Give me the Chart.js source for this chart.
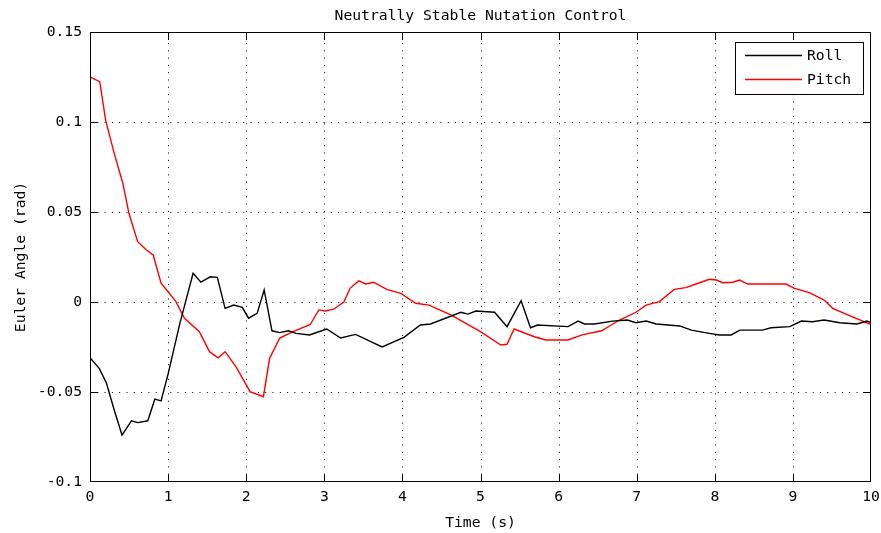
<!DOCTYPE html>
<html>
<head>
<meta charset="utf-8">
<script src="https://cdn.jsdelivr.net/npm/chart.js@4.4.1/dist/chart.umd.min.js"></script>
<style>
  body { margin: 0; background: #fff; }
  canvas { display: block; }
</style>
</head>
<body>
<canvas id="nutation" width="881" height="533"></canvas>
<script>
const chartTitle = "Neutrally Stable Nutation Control"
const xTitle = "Time (s)"
const yTitle = "Euler Angle (rad)"
const yTickLabels = ["-0.1", "-0.05", "0", "0.05", "0.1", "0.15"]

const rollTime = [0, 0.12, 0.21, 0.31, 0.41, 0.53, 0.61, 0.74, 0.83, 0.91, 1.0, 1.15, 1.32, 1.42, 1.54, 1.63, 1.73, 1.84, 1.95, 2.03, 2.14, 2.23, 2.33, 2.43, 2.54, 2.64, 2.81, 3.03, 3.21, 3.40, 3.74, 4.02, 4.23, 4.36, 4.75, 4.84, 4.94, 5.18, 5.34, 5.52, 5.64, 5.73, 6.12, 6.25, 6.33, 6.46, 6.69, 6.88, 6.99, 7.12, 7.25, 7.55, 7.70, 7.93, 8.06, 8.21, 8.32, 8.61, 8.72, 8.96, 9.11, 9.25, 9.40, 9.60, 9.82, 9.95, 10]
const rollAngle = [-0.031, -0.037, -0.045, -0.060, -0.074, -0.066, -0.067, -0.066, -0.054, -0.055, -0.040, -0.012, 0.016, 0.011, 0.014, 0.0137, -0.0035, -0.0017, -0.003, -0.009, -0.0063, 0.0067, -0.016, -0.017, -0.016, -0.0174, -0.0183, -0.015, -0.020, -0.018, -0.025, -0.0196, -0.0128, -0.0122, -0.0057, -0.0067, -0.005, -0.0057, -0.0137, 0.0007, -0.0143, -0.0128, -0.0137, -0.0106, -0.0122, -0.0122, -0.0106, -0.010, -0.0115, -0.0106, -0.0122, -0.0133, -0.0156, -0.0174, -0.0183, -0.0183, -0.0156, -0.0156, -0.0143, -0.0137, -0.0106, -0.011, -0.010, -0.0115, -0.0122, -0.0106, -0.0115]

const pitchTime = [0, 0.125, 0.2, 0.31, 0.42, 0.50, 0.61, 0.72, 0.81, 0.91, 1.0, 1.10, 1.21, 1.40, 1.53, 1.64, 1.73, 1.87, 2.05, 2.22, 2.30, 2.43, 2.60, 2.82, 2.93, 3.01, 3.12, 3.25, 3.33, 3.44, 3.53, 3.63, 3.80, 3.98, 4.17, 4.34, 4.62, 5.0, 5.26, 5.34, 5.43, 5.69, 5.84, 6.12, 6.30, 6.55, 6.78, 6.99, 7.12, 7.29, 7.48, 7.63, 7.76, 7.93, 8.02, 8.10, 8.23, 8.32, 8.42, 8.91, 9.02, 9.21, 9.40, 9.51, 9.68, 10]
const pitchAngle = [0.125, 0.1224, 0.101, 0.0826, 0.066, 0.049, 0.0335, 0.029, 0.026, 0.0104, 0.0057, 0.0002, -0.009, -0.0165, -0.0276, -0.031, -0.0276, -0.036, -0.0498, -0.0526, -0.0313, -0.020, -0.0165, -0.0125, -0.0044, -0.005, -0.004, 0, 0.0076, 0.0117, 0.010, 0.011, 0.007, 0.0048, -0.0007, -0.0017, -0.0072, -0.0165, -0.0239, -0.0235, -0.015, -0.0193, -0.0211, -0.0211, -0.0183, -0.0160, -0.010, -0.0057, -0.0017, 0.0002, 0.007, 0.008, 0.010, 0.0126, 0.0122, 0.0107, 0.011, 0.0122, 0.010, 0.010, 0.0076, 0.0052, 0.0011, -0.0035, -0.0067, -0.0125]

const FONT = "DejaVu Sans Mono"
const FSIZE = 14.7
Chart.defaults.font.family = FONT
Chart.defaults.font.size = FSIZE
Chart.defaults.color = "#000"

function pairs(xs, ys) {
    return xs.map((x, i) => ({x: x, y: ys[i]}))
}

function clamp(v, lo, hi) {
    return Math.min(Math.max(v, lo), hi)
}

// grid, box, inward ticks, title and the legend, matlab style
const matlabFrame = {
    id: "matlabFrame",
    beforeDatasetsDraw(chart) {
        const {ctx, chartArea: a, scales} = chart
        ctx.save()
        ctx.strokeStyle = "#000"
        ctx.lineWidth = 1
        ctx.setLineDash([1, 6.3])
        scales.x.ticks.forEach(t => {
            if (t.value <= scales.x.min || t.value >= scales.x.max) return
            const px = Math.round(scales.x.getPixelForValue(t.value)) + 0.5
            ctx.beginPath(); ctx.moveTo(px, a.bottom); ctx.lineTo(px, a.top); ctx.stroke()
        })
        scales.y.ticks.forEach(t => {
            if (t.value <= scales.y.min + 1e-9 || t.value >= scales.y.max - 1e-9) return
            const py = Math.round(scales.y.getPixelForValue(t.value)) + 0.5
            ctx.beginPath(); ctx.moveTo(a.left, py); ctx.lineTo(a.right, py); ctx.stroke()
        })
        ctx.restore()
    },
    afterDatasetsDraw(chart) {
        const {ctx, chartArea: a, scales} = chart
        const tl = 8
        ctx.save()
        ctx.setLineDash([])
        ctx.fillStyle = "#000"
        // box
        const L = Math.round(a.left), R = Math.round(a.right) - 1
        const T = Math.round(a.top), B = Math.round(a.bottom) - 1
        ctx.fillRect(L, T, R - L + 1, 1)
        ctx.fillRect(L, B, R - L + 1, 1)
        ctx.fillRect(L, T, 1, B - T + 1)
        ctx.fillRect(R, T, 1, B - T + 1)
        // ticks pointing inward on all four sides
        scales.x.ticks.forEach(t => {
            const px = clamp(Math.round(scales.x.getPixelForValue(t.value)), L, R)
            ctx.fillRect(px, B - tl + 1, 1, tl)
            ctx.fillRect(px, T, 1, tl)
        })
        scales.y.ticks.forEach(t => {
            const py = clamp(Math.round(scales.y.getPixelForValue(t.value)), T, B)
            ctx.fillRect(L, py, tl, 1)
            ctx.fillRect(R - tl + 1, py, tl, 1)
        })

        // title
        ctx.font = FSIZE + "px '" + FONT + "'"
        ctx.textAlign = "center"
        ctx.textBaseline = "middle"
        ctx.fillText(chartTitle, (a.left + a.right) / 2, 16)

        // legend box in the top right corner
        const bx = R - 135, by = T + 10, bw = 128, bh = 52
        ctx.fillStyle = "#fff"
        ctx.fillRect(bx, by, bw, bh)
        ctx.strokeStyle = "#000"
        ctx.lineWidth = 1
        ctx.strokeRect(bx + 0.5, by + 0.5, bw, bh)
        chart.data.datasets.forEach((ds, i) => {
            const ly = by + 13.5 + i * 24
            ctx.strokeStyle = ds.borderColor
            ctx.lineWidth = 1.3
            ctx.beginPath(); ctx.moveTo(bx + 10, ly); ctx.lineTo(bx + 67, ly); ctx.stroke()
            ctx.fillStyle = "#000"
            ctx.textAlign = "left"
            ctx.fillText(ds.label, bx + 72, ly + 1)
        })
        ctx.restore()
    }
}

new Chart(document.getElementById("nutation"), {
    type: "line",
    data: {
        datasets: [{
            label: "Roll",
            data: pairs(rollTime, rollAngle),
            borderColor: "#000000",
            borderWidth: 1.4,
            pointRadius: 0,
            tension: 0
        }, {
            label: "Pitch",
            data: pairs(pitchTime, pitchAngle),
            borderColor: "#ff0000",
            borderWidth: 1.4,
            pointRadius: 0,
            tension: 0
        }]
    },
    options: {
        responsive: false,
        animation: false,
        layout: {padding: {top: 32, right: 10, left: 0, bottom: 0}},
        scales: {
            x: {
                type: "linear",
                min: 0, max: 10,
                ticks: {stepSize: 1, padding: 6, maxRotation: 0},
                grid: {display: false, drawTicks: false},
                border: {display: false},
                title: {display: true, text: xTitle, padding: {top: 0, bottom: 1}},
                afterFit: s => { s.height = 51; s.paddingLeft = 0; s.paddingRight = 0 }
            },
            y: {
                min: -0.1, max: 0.15,
                ticks: {stepSize: 0.05, padding: 8, callback: (v, i) => yTickLabels[i]},
                grid: {display: false, drawTicks: false},
                border: {display: false},
                title: {display: true, text: yTitle, padding: {top: 12, bottom: 0}},
                afterFit: s => { s.width = 90; s.paddingTop = 0; s.paddingBottom = 0 }
            }
        },
        plugins: {
            legend: {display: false},
            tooltip: {enabled: false},
            title: {display: false}
        }
    },
    plugins: [matlabFrame]
})
</script>
</body>
</html>
